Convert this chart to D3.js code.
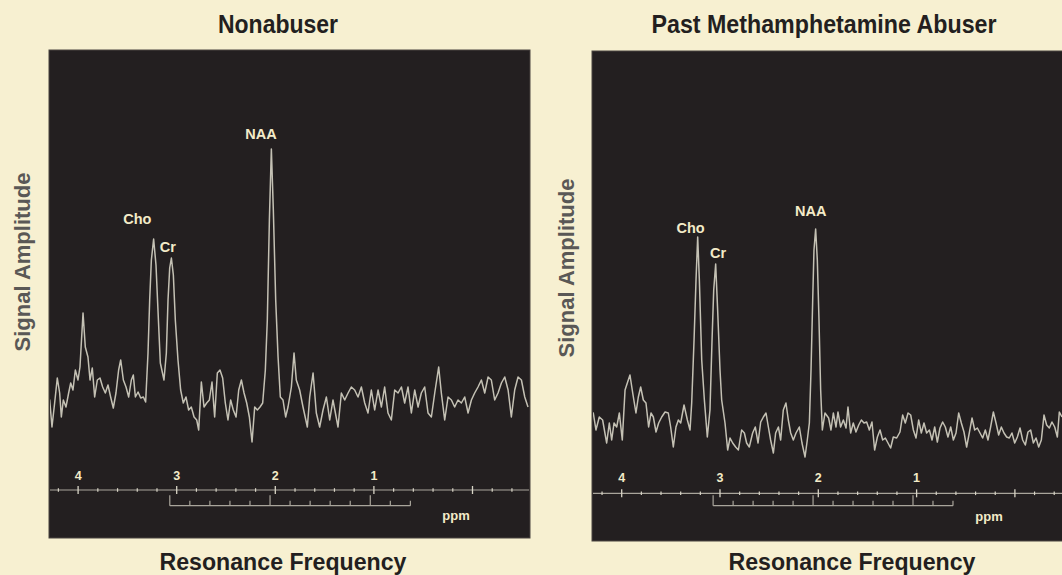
<!DOCTYPE html>
<html><head><meta charset="utf-8">
<script src="https://cdn.jsdelivr.net/npm/d3@7"></script>
<style>html,body{margin:0;padding:0;background:#F7F0D1;} svg{display:block}</style>
</head><body><svg id="c" width="1062" height="575"></svg>
<script>
const panelTitles = ["Nonabuser", "Past Methamphetamine Abuser"];
const xAxisTitle = "Resonance Frequency";
const yAxisTitle = "Signal Amplitude";
const peakNames = ["Cho", "Cr", "NAA"];
const majorTickValues = [4, 3, 2, 1, 0];
const majorTickLabels = ["4", "3", "2", "1", ""];
const unitLabel = "ppm";

// Nonabuser spectrum (ppm, amplitude in arbitrary units)
const leftPpm = [4.305,4.288,4.265,4.238,4.211,4.187,4.170,4.150,4.123,4.096,4.075,4.052,4.028,4.001,3.981,3.950,3.927,3.900,3.879,3.856,3.832,3.805,3.778,3.751,3.724,3.697,3.670,3.643,3.616,3.589,3.568,3.541,3.514,3.487,3.460,3.440,3.419,3.392,3.365,3.338,3.315,3.291,3.274,3.257,3.234,3.210,3.190,3.166,3.129,3.105,3.088,3.071,3.054,3.034,3.014,2.987,2.960,2.933,2.906,2.879,2.852,2.824,2.797,2.777,2.750,2.723,2.696,2.669,2.642,2.615,2.588,2.561,2.534,2.507,2.480,2.453,2.426,2.398,2.371,2.344,2.317,2.290,2.263,2.236,2.209,2.182,2.155,2.128,2.101,2.081,2.060,2.040,2.020,1.996,1.972,1.949,1.922,1.895,1.871,1.837,1.810,1.787,1.753,1.719,1.675,1.651,1.617,1.584,1.550,1.516,1.482,1.448,1.415,1.364,1.330,1.296,1.262,1.229,1.195,1.161,1.127,1.093,1.060,1.026,0.992,0.958,0.924,0.891,0.857,0.823,0.789,0.755,0.721,0.688,0.654,0.620,0.586,0.552,0.519,0.485,0.451,0.417,0.383,0.343,0.316,0.282,0.248,0.214,0.181,0.147,0.113,0.079,0.045,0.011,-0.022,-0.056,-0.090,-0.124,-0.158,-0.191,-0.225,-0.259,-0.293,-0.327,-0.361,-0.394,-0.428,-0.462,-0.496,-0.530,-0.563];
const leftAmp = [55,60,33,57,82,67,43,60,53,67,77,70,90,80,93,147,113,103,80,92,63,80,82,73,67,75,63,52,67,90,100,80,73,63,80,85,63,68,62,63,58,107,160,200,221,195,150,97,80,107,160,192,202,185,140,100,70,57,63,50,53,43,40,30,78,53,57,60,78,43,87,90,82,57,40,60,50,43,70,80,67,57,43,18,53,50,53,57,90,140,240,311,250,160,103,63,60,43,53,73,107,80,70,53,33,63,87,47,33,50,63,40,60,33,67,60,67,73,70,63,73,57,47,70,50,70,53,73,47,40,70,67,73,57,73,47,70,53,67,73,47,43,67,93,67,40,63,60,53,60,57,63,47,60,67,73,80,67,83,80,60,67,77,83,70,43,70,83,80,63,53];

// Past methamphetamine abuser spectrum
const rightPpm = [4.322,4.289,4.262,4.228,4.194,4.153,4.126,4.102,4.078,4.051,4.024,3.994,3.966,3.943,3.916,3.888,3.855,3.831,3.807,3.780,3.753,3.726,3.702,3.678,3.651,3.624,3.593,3.559,3.526,3.502,3.475,3.448,3.424,3.400,3.366,3.332,3.305,3.288,3.264,3.244,3.227,3.210,3.186,3.159,3.129,3.102,3.081,3.064,3.044,3.024,3.000,2.983,2.949,2.922,2.898,2.871,2.841,2.813,2.780,2.752,2.729,2.702,2.668,2.641,2.613,2.586,2.559,2.532,2.508,2.485,2.457,2.434,2.406,2.383,2.356,2.329,2.305,2.281,2.254,2.227,2.193,2.166,2.135,2.112,2.091,2.074,2.057,2.044,2.027,2.010,1.993,1.976,1.959,1.932,1.895,1.871,1.847,1.820,1.800,1.773,1.745,1.718,1.698,1.671,1.644,1.617,1.589,1.562,1.535,1.508,1.481,1.454,1.427,1.399,1.372,1.345,1.318,1.291,1.264,1.237,1.203,1.169,1.142,1.115,1.087,1.060,1.033,1.006,0.979,0.952,0.925,0.898,0.870,0.843,0.816,0.789,0.762,0.735,0.708,0.681,0.653,0.626,0.599,0.572,0.545,0.518,0.491,0.464,0.436,0.409,0.382,0.355,0.328,0.301,0.274,0.247,0.219,0.192,0.165,0.138,0.111,0.084,0.057,0.030,0.002,-0.025,-0.052,-0.079,-0.106,-0.133,-0.160,-0.188,-0.215,-0.242,-0.269,-0.296,-0.323,-0.350,-0.377,-0.405,-0.432,-0.452,-0.479];
const rightAmp = [45,47,30,43,40,17,37,20,37,33,47,20,70,77,85,67,47,63,73,60,57,33,47,43,28,37,43,48,47,33,13,33,40,37,55,40,30,57,120,180,223,180,100,60,23,50,120,170,196,150,90,60,37,10,22,17,13,10,30,27,17,13,27,33,17,38,43,47,33,20,7,27,33,20,50,57,40,27,20,27,33,17,3,20,37,90,160,210,231,200,140,70,30,47,42,30,47,33,48,33,40,32,53,27,37,28,35,40,37,38,30,38,10,23,30,20,22,17,12,23,22,28,45,37,47,45,30,22,40,27,37,27,30,20,33,18,32,38,33,23,33,20,27,47,37,28,13,27,42,30,32,27,22,30,20,33,48,37,25,33,27,23,22,27,17,23,32,20,15,28,30,17,22,13,20,45,35,32,38,33,23,48,43];

// Peak label anchors (ppm, amplitude)
const leftLabelPpm = [3.40, 3.09, 2.145];
const leftLabelAmp = [241, 213, 326];
const rightLabelPpm = [3.30, 3.02, 2.076];
const rightLabelAmp = [232, 207, 249];

// Offset ruler under the axis (ppm span, divisions, major every n)
const bracketSpan = [3.07, 0.63];
const bracketDivisions = 12;
const bracketMajorEvery = 5;

const svg = d3.select("#c");
const PANEL = "#231F20", INK = "#F3EBC8", LINE = "#C4C1B4", AXIS = "#A9A59B";
const yScale = d3.scaleLinear().domain([0, 320]).range([460, 140]);

const panels = [
  {ppm: leftPpm, amp: leftAmp, lp: leftLabelPpm, la: leftLabelAmp, title: panelTitles[0],
   x0: 49, x1: 530, y0: 50, y1: 538, xDomain: [4.3053, 0], xRange: [48, 472.5],
   axisY: 490, tickLabelY: 479.5, bracketY: 505.7, ppmX: 456, ppmY: 520,
   titleX: 278, xTitleX: 283, yTitleX: 30, yTitleY: 262},
  {ppm: rightPpm, amp: rightAmp, lp: rightLabelPpm, la: rightLabelAmp, title: panelTitles[1],
   x0: 592, x1: 1075, y0: 51, y1: 541, xDomain: [4.3225, 0], xRange: [590, 1014.9],
   axisY: 493.3, tickLabelY: 481.5, bracketY: 505.7, ppmX: 989, ppmY: 521,
   titleX: 824, xTitleX: 852, yTitleX: 574, yTitleY: 268}
];

panels.forEach((p, i) => {
  const g = svg.append("g");
  const x = d3.scaleLinear().domain(p.xDomain).range(p.xRange);
  g.append("rect").attr("x", p.x0).attr("y", p.y0).attr("width", p.x1 - p.x0).attr("height", p.y1 - p.y0)
    .attr("fill", PANEL).attr("stroke", "#4a4540").attr("stroke-width", 1);
  const clipId = "clip" + i;
  svg.append("clipPath").attr("id", clipId).append("rect")
    .attr("x", p.x0 + 1).attr("y", p.y0 + 1).attr("width", p.x1 - p.x0 - 2).attr("height", p.y1 - p.y0 - 2);

  // spectrum
  const pts = p.ppm.map((v, k) => ({ppm: v, amp: p.amp[k]}));
  const line = d3.line().x(d => x(d.ppm)).y(d => yScale(d.amp));
  g.append("path").datum(pts).attr("d", line).attr("fill", "none")
    .attr("stroke", LINE).attr("stroke-width", 1.5).attr("stroke-linejoin", "round")
    .attr("clip-path", `url(#${clipId})`);

  // peak labels
  peakNames.forEach((n, k) => {
    g.append("text").attr("x", x(p.lp[k])).attr("y", yScale(p.la[k]))
      .attr("text-anchor", "middle").attr("dominant-baseline", "central")
      .attr("fill", INK).attr("font-family", "Liberation Sans, Arial, sans-serif")
      .attr("font-weight", "bold").attr("font-size", 14.5).text(n);
  });

  // axis
  const ax = g.append("g").attr("clip-path", `url(#${clipId})`);
  const lo = x.invert(p.x1), hi = x.invert(p.x0);
  ax.append("line").attr("x1", p.x0).attr("x2", p.x1).attr("y1", p.axisY).attr("y2", p.axisY)
    .attr("stroke", AXIS).attr("stroke-width", 1.2);
  const minor = d3.range(Math.ceil(lo * 5), Math.floor(hi * 5) + 1).map(v => v / 5)
    .filter(v => Math.abs(v - Math.round(v)) > 1e-6);
  ax.selectAll(".mn").data(minor).join("line")
    .attr("x1", d => x(d)).attr("x2", d => x(d)).attr("y1", p.axisY - 1.8).attr("y2", p.axisY + 1.8)
    .attr("stroke", "#D8D4C6").attr("stroke-width", 1.2);
  const majors = d3.range(Math.ceil(lo), Math.floor(hi) + 1);
  ax.selectAll(".mj").data(majors).join("line")
    .attr("x1", d => x(d)).attr("x2", d => x(d)).attr("y1", p.axisY - 4).attr("y2", p.axisY + 4)
    .attr("stroke", "#D8D4C6").attr("stroke-width", 1.3);
  majorTickValues.forEach((v, k) => {
    if (!majorTickLabels[k]) return;
    g.append("text").attr("x", x(v)).attr("y", p.tickLabelY).attr("text-anchor", "middle")
      .attr("fill", INK).attr("font-family", "Liberation Sans, Arial, sans-serif")
      .attr("font-weight", "bold").attr("font-size", 12.5).text(majorTickLabels[k]);
  });

  // offset ruler
  const bx0 = x(bracketSpan[0]), bx1 = x(bracketSpan[1]);
  const br = g.append("g").attr("stroke", AXIS).attr("stroke-width", 1.2).attr("fill", "none");
  br.append("line").attr("x1", bx0).attr("x2", bx1).attr("y1", p.bracketY).attr("y2", p.bracketY);
  d3.range(bracketDivisions + 1).forEach(k => {
    const bx = bx0 + (bx1 - bx0) * k / bracketDivisions;
    const tall = (k % bracketMajorEvery === 0);
    br.append("line").attr("x1", bx).attr("x2", bx).attr("y1", p.bracketY)
      .attr("y2", p.bracketY - (tall ? 10.5 : 5));
  });
  g.append("text").attr("x", p.ppmX).attr("y", p.ppmY).attr("text-anchor", "middle")
    .attr("fill", INK).attr("font-family", "Liberation Sans, Arial, sans-serif")
    .attr("font-weight", "bold").attr("font-size", 13).text(unitLabel);

  // titles
  svg.append("text").attr("x", p.titleX).attr("y", 33).attr("text-anchor", "middle")
    .attr("fill", "#231F20").attr("font-family", "Liberation Sans Narrow, Liberation Sans, Arial, sans-serif")
    .attr("font-weight", "bold").attr("font-size", 25)
    .attr("textLength", i === 0 ? 120 : 345).attr("lengthAdjust", "spacingAndGlyphs").text(p.title);
  svg.append("text").attr("x", p.xTitleX).attr("y", 570).attr("text-anchor", "middle")
    .attr("fill", "#231F20").attr("font-family", "Liberation Sans Narrow, Liberation Sans, Arial, sans-serif")
    .attr("font-weight", "bold").attr("font-size", 24)
    .attr("textLength", 247).attr("lengthAdjust", "spacingAndGlyphs").text(xAxisTitle);
  svg.append("text").attr("transform", `translate(${p.yTitleX},${p.yTitleY}) rotate(-90)`)
    .attr("text-anchor", "middle").attr("fill", "#5a5856")
    .attr("font-family", "Liberation Sans, Arial, sans-serif")
    .attr("font-weight", "bold").attr("font-size", 22).text(yAxisTitle);
});
</script></body></html>
